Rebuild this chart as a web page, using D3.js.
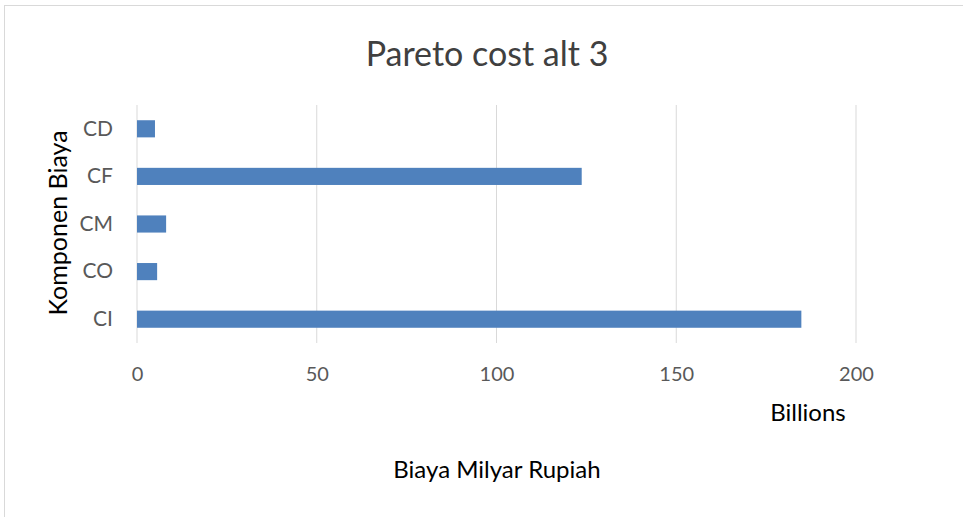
<!DOCTYPE html>
<html>
<head>
<meta charset="utf-8">
<script src="https://cdn.jsdelivr.net/npm/d3@7"></script>
<style>
  body { margin: 0; background: #fff; }
  text { font-family: Lato, "Open Sans", sans-serif; }
</style>
</head>
<body>
<div id="chart"></div>
<script>
// categories top to bottom, as drawn
const categories = ["CD", "CF", "CM", "CO", "CI"];
// biaya, milyar rupiah (billions)
const values = [5.0, 123.7, 8.1, 5.6, 184.8];
const ticks = [0, 50, 100, 150, 200];

const width = 963, height = 517;
const margin = {top: 105, left: 137, right: 107, bottom: 174};

const svg = d3.select("#chart").append("svg")
    .attr("width", width)
    .attr("height", height);

// chart border
svg.append("rect")
    .attr("x", 4.5).attr("y", 5.5)
    .attr("width", 970).attr("height", 520)
    .attr("fill", "#fff")
    .attr("stroke", "#d9d9d9");

let x = d3.scaleLinear()
    .domain([0, 200])
    .range([margin.left, width - margin.right]);

let y = d3.scaleBand()
    .domain(categories)
    .range([margin.top, height - margin.bottom])
    .paddingInner(0.64)
    .paddingOuter(0.32);

// gridlines
svg.append("g")
    .selectAll("line")
    .data(ticks)
    .enter().append("line")
    .attr("x1", d => x(d)).attr("x2", d => x(d))
    .attr("y1", margin.top).attr("y2", height - margin.bottom)
    .attr("stroke", "#d9d9d9")
    .attr("stroke-width", 1);

// bars
svg.append("g")
    .selectAll("rect")
    .data(values)
    .enter().append("rect")
    .attr("x", x(0))
    .attr("y", (d, i) => y(categories[i]))
    .attr("width", d => x(d) - x(0))
    .attr("height", y.bandwidth())
    .attr("fill", "#4f81bd");

// x tick labels
let xAxis = svg.append("g")
    .attr("transform", "translate(0," + (height - margin.bottom) + ")")
    .call(d3.axisBottom(x).tickValues(ticks).tickSize(0).tickPadding(24));
xAxis.select(".domain").remove();
xAxis.selectAll("text")
    .style("font-size", "20px")
    .attr("fill", "#595959");

// y category labels
let yAxis = svg.append("g")
    .attr("transform", "translate(" + (margin.left - 24) + ",0)")
    .call(d3.axisLeft(y).tickSize(0).tickPadding(0));
yAxis.select(".domain").remove();
yAxis.selectAll("text")
    .style("font-size", "21px")
    .attr("fill", "#595959");

// title
svg.append("text")
    .attr("x", 487).attr("y", 66)
    .attr("text-anchor", "middle")
    .style("font-size", "34px")
    .attr("fill", "#404040")
    .text("Pareto cost alt 3");

// display unit
svg.append("text")
    .attr("x", 808).attr("y", 421)
    .attr("text-anchor", "middle")
    .style("font-size", "24px")
    .attr("fill", "#000")
    .text("Billions");

// axis titles
svg.append("text")
    .attr("x", 497).attr("y", 478)
    .attr("text-anchor", "middle")
    .style("font-size", "24px")
    .attr("fill", "#000")
    .text("Biaya Milyar Rupiah");

svg.append("text")
    .attr("transform", "translate(67,223) rotate(-90)")
    .attr("text-anchor", "middle")
    .style("font-size", "25px")
    .attr("fill", "#000")
    .text("Komponen Biaya");
</script>
</body>
</html>
